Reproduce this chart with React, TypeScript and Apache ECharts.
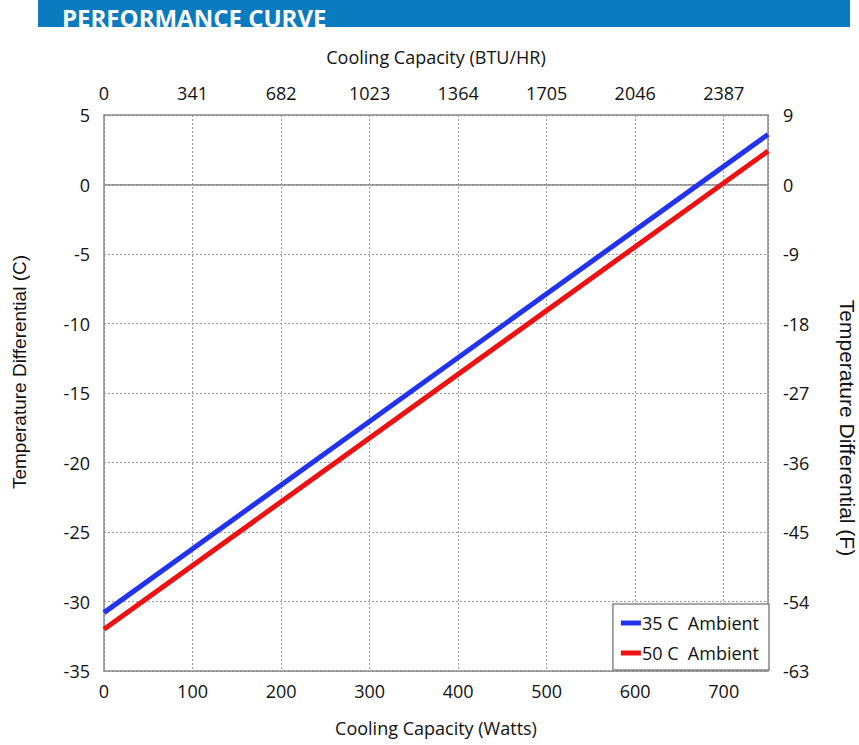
import React, { useEffect, useRef } from "react";
import * as echarts from "echarts";

const title = "PERFORMANCE CURVE";
const leftName = "Temperature Differential (C)";
const rightName = "Temperature Differential (F)";
const wattsRange = [0, 750];
const series35 = [
  [0, -30.8],
  [750, 3.6],
];
const series50 = [
  [0, -32.0],
  [750, 2.4],
];
const btuLabels = ["0", "341", "682", "1023", "1364", "1705", "2046", "2387"];
const fLabels = ["-63", "-54", "-45", "-36", "-27", "-18", "-9", "0", "9"];
const seriesNames = ["35 C  Ambient", "50 C  Ambient"];

const FONT = "Open Sans";

export default function App() {
  const ref = useRef<HTMLDivElement>(null);
  useEffect(() => {
    const chart = echarts.init(ref.current!, undefined, { renderer: "svg" });
    const labelStyle = { color: "#111", fontFamily: FONT, fontSize: 18 };
    const gridColor = "#8a8a8a";
    chart.setOption({
      animation: false,
      backgroundColor: "#fff",
      graphic: [
        { type: "rect", shape: { x: 38, y: 0, width: 812, height: 27 }, style: { fill: "#0a7bbf" }, z: 10 },
        {
          type: "text",
          x: 62,
          y: 5,
          style: { text: title, fill: "#fff", font: `bold 24px "${FONT}"` },
          z: 11,
        },
        { type: "rect", shape: { x: 0, y: 27, width: 859, height: 14 }, style: { fill: "#fff" }, z: 12 },
        {
          type: "text",
          x: 19,
          y: 372,
          rotation: Math.PI / 2,
          style: {
            text: leftName,
            fill: "#111",
            font: `19px "Liberation Sans"`,
            align: "center",
            verticalAlign: "middle",
          },
          z: 11,
        },
        {
          type: "text",
          x: 847,
          y: 428,
          rotation: -Math.PI / 2,
          style: {
            text: rightName,
            fill: "#111",
            font: `21px "Liberation Sans"`,
            align: "center",
            verticalAlign: "middle",
          },
          z: 11,
        },
      ],
      grid: { left: 104, right: 91, top: 115, bottom: 74, outerBoundsMode: "none", containLabel: false },
      legend: {
        orient: "vertical",
        right: 90,
        bottom: 75,
        backgroundColor: "#fff",
        borderColor: "#888",
        borderWidth: 1.5,
        borderRadius: 0,
        padding: [10, 10, 8, 8],
        itemGap: 12,
        itemWidth: 20,
        itemHeight: 5,
        icon: "rect",
        textStyle: { color: "#111", fontFamily: FONT, fontSize: 18, padding: [0, 0, 0, -4] },
        data: seriesNames,
        z: 20,
      },
      xAxis: [
        {
          type: "value",
          min: wattsRange[0],
          max: wattsRange[1],
          interval: 100,
          position: "bottom",
          name: "Cooling Capacity (Watts)",
          nameLocation: "middle",
          nameGap: 48,
          nameTextStyle: { ...labelStyle },
          axisLine: { onZero: false, lineStyle: { color: gridColor, width: 1.5 } },
          axisTick: { show: false },
          axisLabel: { ...labelStyle, margin: 11, showMaxLabel: false },
          splitLine: { show: true, lineStyle: { color: "#999", type: [2, 2], width: 1 } },
        },
        {
          type: "value",
          min: wattsRange[0],
          max: wattsRange[1],
          interval: 100,
          position: "top",
          name: "Cooling Capacity (BTU/HR)",
          nameLocation: "middle",
          nameGap: 49,
          nameTextStyle: { ...labelStyle },
          axisLine: { onZero: false, lineStyle: { color: gridColor, width: 1.5 } },
          axisTick: { show: false },
          axisLabel: {
            ...labelStyle,
            margin: 13,
            showMaxLabel: false,
            formatter: (v: number) => btuLabels[Math.round(v / 100)] ?? "",
          },
          splitLine: { show: false },
        },
      ],
      yAxis: [
        {
          type: "value",
          min: -35,
          max: 5,
          interval: 5,
          position: "left",
          axisLine: { onZero: false, lineStyle: { color: gridColor, width: 1.5 } },
          axisTick: { show: false },
          axisLabel: { ...labelStyle, margin: 14 },
          splitLine: { show: true, lineStyle: { color: "#999", type: [2, 2], width: 1 } },
        },
        {
          type: "value",
          min: -35,
          max: 5,
          interval: 5,
          position: "right",
          axisLine: { onZero: false, lineStyle: { color: gridColor, width: 1.5 } },
          axisTick: { show: false },
          axisLabel: {
            ...labelStyle,
            margin: 15,
            formatter: (v: number) => fLabels[Math.round((v + 35) / 5)] ?? "",
          },
          splitLine: { show: false },
        },
      ],
      series: [
        {
          name: seriesNames[0],
          type: "line",
          data: series35,
          symbol: "none",
          lineStyle: { color: "#2233ee", width: 5 },
          itemStyle: { color: "#2233ee" },
          z: 5,
          markLine: {
            silent: true,
            symbol: "none",
            label: { show: false },
            lineStyle: { color: gridColor, type: "solid", width: 1.5 },
            data: [{ yAxis: 0 }],
            z: 1,
          },
        },
        {
          name: seriesNames[1],
          type: "line",
          data: series50,
          symbol: "none",
          lineStyle: { color: "#ee1111", width: 5 },
          itemStyle: { color: "#ee1111" },
          z: 5,
        },
      ],
    });
    return () => chart.dispose();
  }, []);
  return (
    <div
      ref={ref}
      style={{ position: "fixed", left: 0, top: 0, width: 859, height: 745 }}
    />
  );
}
